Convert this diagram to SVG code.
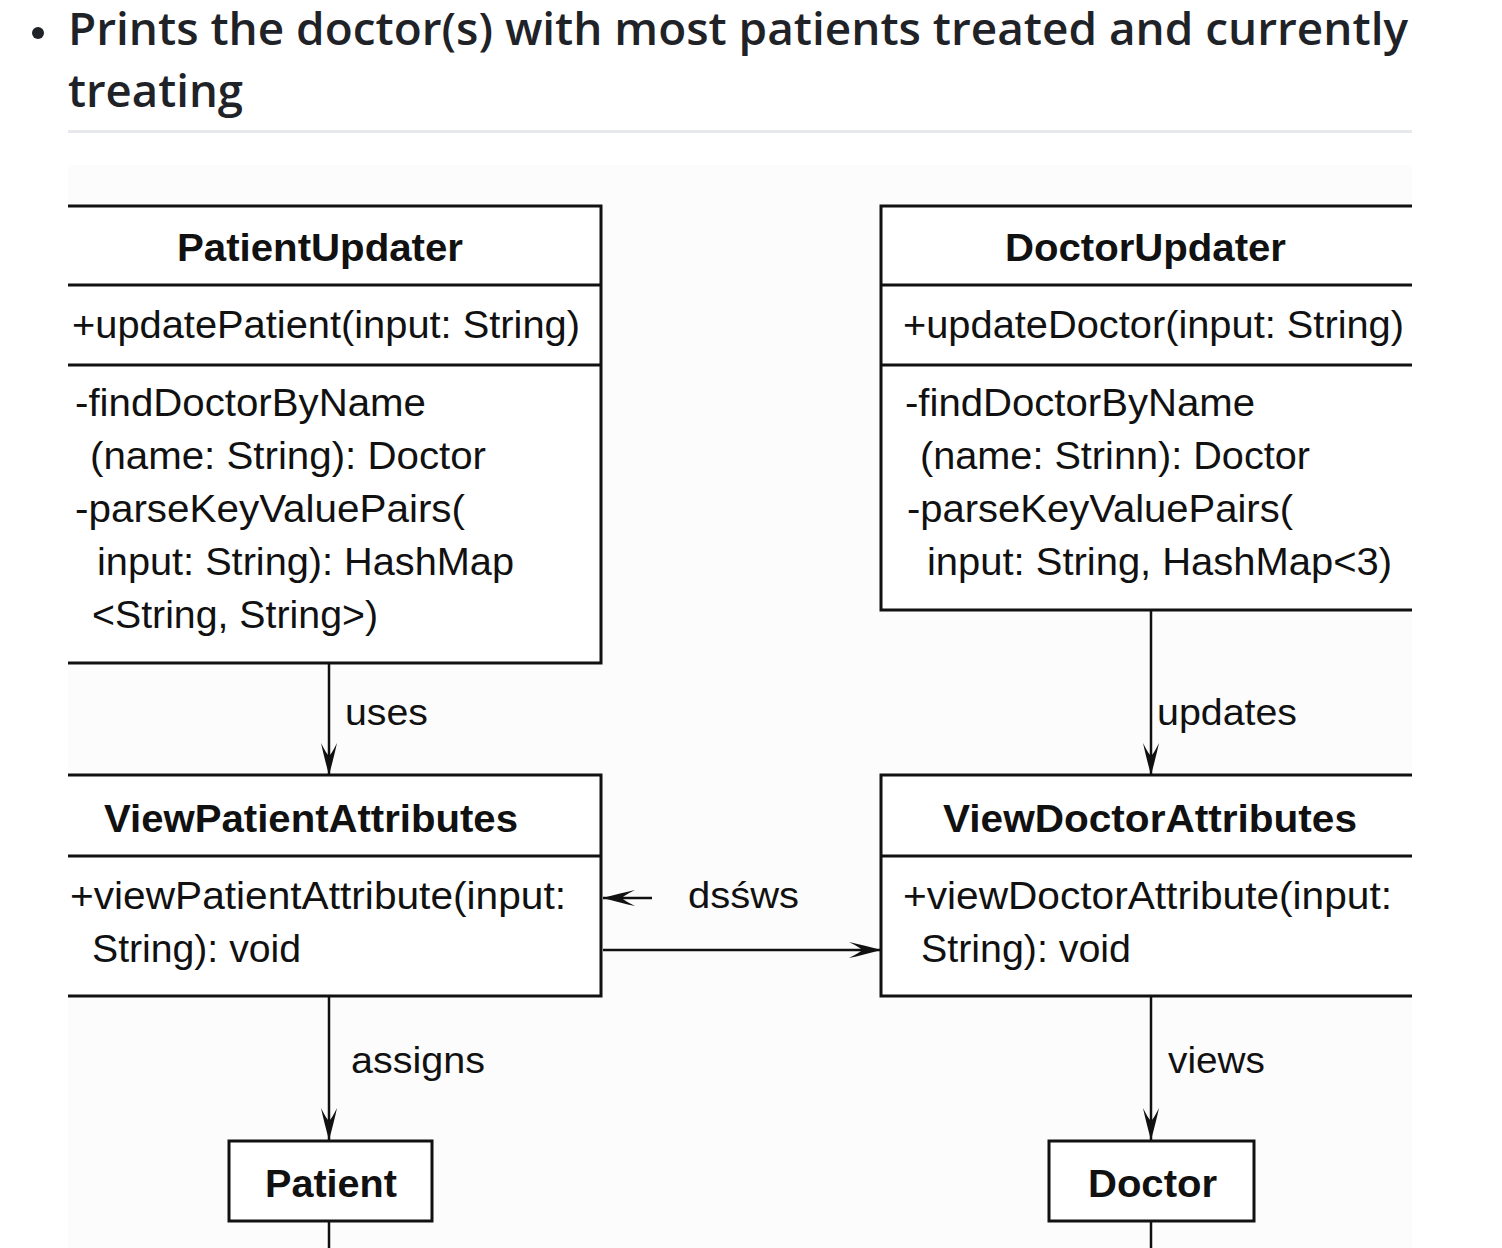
<svg xmlns="http://www.w3.org/2000/svg" width="1502" height="1248" viewBox="0 0 1502 1248">
<style>
.title{font-family:"Open Sans","Noto Sans","Liberation Sans",sans-serif;font-weight:600;font-size:45px;fill:#1f2328}
.box{fill:#ffffff;stroke:#111111;stroke-width:3}
.ln{stroke:#111111;stroke-width:3;fill:none}
.hd{font-family:"Liberation Sans",Arial,sans-serif;font-weight:bold;font-size:38px;fill:#111111}
.tx{font-family:"Liberation Sans",Arial,sans-serif;font-size:38px;fill:#111111}
.lbl{font-family:"Liberation Sans",Arial,sans-serif;font-size:37px;fill:#111111}
.conn{stroke:#111111;stroke-width:2.5;fill:none}
</style>
<defs>
<marker id="arr" viewBox="0 0 32 16" refX="32" refY="8" markerWidth="32" markerHeight="16" markerUnits="userSpaceOnUse" orient="auto">
<path d="M32,8 Q14,3 0,0 Q11,5.5 13,8 Q11,10.5 0,16 Q14,13 32,8 Z" fill="#111111"/>
</marker>
</defs>
<rect x="0" y="0" width="1502" height="1248" fill="#ffffff"/>
<g id="header">
<circle cx="38" cy="33" r="6" fill="#1f2328"/>
<text class="title" x="68" y="45" textLength="1340" lengthAdjust="spacingAndGlyphs">Prints the doctor(s) with most patients treated and currently</text>
<text class="title" x="68" y="107" textLength="175" lengthAdjust="spacingAndGlyphs">treating</text>
<rect x="68" y="130" width="1344" height="3" fill="#e6e8eb"/>
</g>
<rect x="68" y="165" width="1344" height="1083" fill="#fcfcfc"/>
<g id="connectors">
<line class="conn" x1="329" y1="663" x2="329" y2="775" marker-end="url(#arr)"/>
<text class="lbl" x="345" y="725" textLength="83" lengthAdjust="spacingAndGlyphs">uses</text>
<line class="conn" x1="1151" y1="610" x2="1151" y2="775" marker-end="url(#arr)"/>
<text class="lbl" x="1157" y="725" textLength="140" lengthAdjust="spacingAndGlyphs">updates</text>
<line class="conn" x1="652" y1="898" x2="603" y2="898" marker-end="url(#arr)"/>
<text class="lbl" x="688" y="908" textLength="111" lengthAdjust="spacingAndGlyphs">dsśws</text>
<line class="conn" x1="603" y1="950" x2="881" y2="950" marker-end="url(#arr)"/>
<line class="conn" x1="329" y1="996" x2="329" y2="1140" marker-end="url(#arr)"/>
<text class="lbl" x="351" y="1073" textLength="134" lengthAdjust="spacingAndGlyphs">assigns</text>
<line class="conn" x1="1151" y1="996" x2="1151" y2="1140" marker-end="url(#arr)"/>
<text class="lbl" x="1168" y="1073" textLength="97" lengthAdjust="spacingAndGlyphs">views</text>
<line class="conn" x1="329" y1="1221" x2="329" y2="1248"/>
<line class="conn" x1="1151" y1="1221" x2="1151" y2="1248"/>
</g>
<g id="PatientUpdater">
<rect x="68" y="206" width="533" height="457" fill="#ffffff"/>
<path class="ln" d="M68,206 H601 V663 H68 M68,285 H601 M68,365 H601"/>
<text class="hd" x="177" y="261" textLength="286" lengthAdjust="spacingAndGlyphs">PatientUpdater</text>
<text class="tx" x="72" y="338" textLength="508" lengthAdjust="spacingAndGlyphs">+updatePatient(input: String)</text>
<text class="tx" x="75" y="416" textLength="351" lengthAdjust="spacingAndGlyphs">-findDoctorByName</text>
<text class="tx" x="90" y="469" textLength="396" lengthAdjust="spacingAndGlyphs">(name: String): Doctor</text>
<text class="tx" x="75" y="522" textLength="390" lengthAdjust="spacingAndGlyphs">-parseKeyValuePairs(</text>
<text class="tx" x="97" y="575" textLength="417" lengthAdjust="spacingAndGlyphs">input: String): HashMap</text>
<text class="tx" x="92" y="628" textLength="286" lengthAdjust="spacingAndGlyphs">&lt;String, String&gt;)</text>
</g>
<g id="DoctorUpdater">
<rect x="881" y="206" width="531" height="404" fill="#ffffff"/>
<path class="ln" d="M1412,206 H881 V610 H1412 M881,285 H1412 M881,365 H1412"/>
<text class="hd" x="1005" y="261" textLength="281" lengthAdjust="spacingAndGlyphs">DoctorUpdater</text>
<text class="tx" x="903" y="338" textLength="501" lengthAdjust="spacingAndGlyphs">+updateDoctor(input: String)</text>
<text class="tx" x="905" y="416" textLength="350" lengthAdjust="spacingAndGlyphs">-findDoctorByName</text>
<text class="tx" x="920" y="469" textLength="390" lengthAdjust="spacingAndGlyphs">(name: Strinn): Doctor</text>
<text class="tx" x="907" y="522" textLength="386" lengthAdjust="spacingAndGlyphs">-parseKeyValuePairs(</text>
<text class="tx" x="927" y="575" textLength="465" lengthAdjust="spacingAndGlyphs">input: String, HashMap&lt;3)</text>
</g>
<g id="ViewPatientAttributes">
<rect x="68" y="775" width="533" height="221" fill="#ffffff"/>
<path class="ln" d="M68,775 H601 V996 H68 M68,856 H601"/>
<text class="hd" x="104" y="832" textLength="414" lengthAdjust="spacingAndGlyphs">ViewPatientAttributes</text>
<text class="tx" x="70" y="909" textLength="496" lengthAdjust="spacingAndGlyphs">+viewPatientAttribute(input:</text>
<text class="tx" x="92" y="962" textLength="209" lengthAdjust="spacingAndGlyphs">String): void</text>
</g>
<g id="ViewDoctorAttributes">
<rect x="881" y="775" width="531" height="221" fill="#ffffff"/>
<path class="ln" d="M1412,775 H881 V996 H1412 M881,856 H1412"/>
<text class="hd" x="943" y="832" textLength="414" lengthAdjust="spacingAndGlyphs">ViewDoctorAttributes</text>
<text class="tx" x="903" y="909" textLength="489" lengthAdjust="spacingAndGlyphs">+viewDoctorAttribute(input:</text>
<text class="tx" x="921" y="962" textLength="210" lengthAdjust="spacingAndGlyphs">String): void</text>
</g>
<g id="Patient">
<rect class="box" x="229" y="1141" width="203" height="80"/>
<text class="hd" x="265" y="1197" textLength="132" lengthAdjust="spacingAndGlyphs">Patient</text>
</g>
<g id="Doctor">
<rect class="box" x="1049" y="1141" width="205" height="80"/>
<text class="hd" x="1088" y="1197" textLength="129" lengthAdjust="spacingAndGlyphs">Doctor</text>
</g>
</svg>
